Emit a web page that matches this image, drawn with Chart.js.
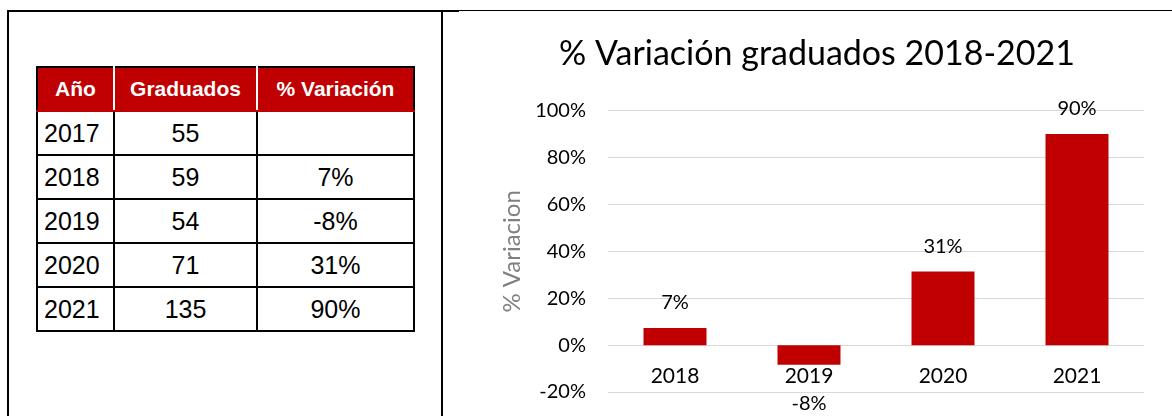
<!DOCTYPE html>
<html>
<head>
<meta charset="utf-8">
<script src="https://cdn.jsdelivr.net/npm/chart.js"></script>
<style>
  html, body { margin: 0; padding: 0; background: #fff; width: 1172px; height: 416px; overflow: hidden; }
  .linea { position: absolute; background: #000; }
  #tabla {
    position: absolute; left: 36px; top: 66px;
    border-collapse: collapse; table-layout: fixed;
    font-family: "Liberation Sans", Arial, sans-serif;
  }
  #tabla th {
    background: #C00000; color: #fff; font-weight: bold; font-size: 21px;
    height: 42px; padding: 0; text-align: center;
    border-top: 2px solid #000;
    border-left: 2px solid #fff; border-right: 2px solid #fff;
    border-bottom: 2px solid #C00000;
  }
  #tabla th:first-child { border-left-color: #000; }
  #tabla th:last-child { border-right-color: #000; }
  #tabla td {
    border: 2px solid #000; height: 42px; padding: 0;
    font-size: 25px; color: #000; text-align: center;
  }
  #tabla td:first-child { text-align: left; padding-left: 6px; }
  #grafico { position: absolute; left: 462px; top: 12px; }
</style>
</head>
<body>
<div class="linea" style="left:7px;top:10px;width:2px;height:406px"></div>
<div class="linea" style="left:7px;top:10px;width:452px;height:2px"></div>
<div class="linea" style="left:441px;top:10px;width:2px;height:406px"></div>
<div class="linea" style="left:459px;top:10px;width:713px;height:1px"></div>

<table id="tabla">
  <colgroup><col style="width:77px"><col style="width:143px"><col style="width:157px"></colgroup>
  <thead><tr><th>Año</th><th>Graduados</th><th>% Variación</th></tr></thead>
  <tbody id="cuerpo"></tbody>
</table>

<canvas id="grafico" width="710" height="414"></canvas>

<script>
// datos de la tabla
const anios = ['2017', '2018', '2019', '2020', '2021'];
const graduados = [55, 59, 54, 71, 135];
const variacionTabla = ['', '7%', '-8%', '31%', '90%'];

// datos del grafico
const categorias = ['2018', '2019', '2020', '2021'];
const variacion = [0.073, -0.084, 0.314, 0.901];

const cuerpo = document.getElementById('cuerpo');
anios.forEach((a, i) => {
  const tr = document.createElement('tr');
  [a, graduados[i], variacionTabla[i]].forEach(t => {
    const td = document.createElement('td');
    td.textContent = t;
    tr.appendChild(td);
  });
  cuerpo.appendChild(tr);
});

const pct = v => Math.round(v * 100) + '%';

// etiquetas de datos encima / debajo de cada barra
const etiquetas = {
  id: 'etiquetas',
  afterDatasetsDraw(chart) {
    const ctx = chart.ctx;
    const meta = chart.getDatasetMeta(0);
    ctx.save();
    ctx.font = '20px Lato';
    ctx.fillStyle = '#000';
    ctx.textAlign = 'center';
    ctx.textBaseline = 'middle';
    meta.data.forEach((bar, i) => {
      const v = variacion[i];
      const y = v >= 0 ? bar.y - 25 : bar.y + 39;
      ctx.fillText(pct(v), bar.x, y);
    });
    ctx.restore();
  }
};

Chart.defaults.font.family = 'Lato';

const ctx = document.getElementById('grafico').getContext('2d');
const grafico = new Chart(ctx, {
  type: 'bar',
  data: {
    labels: categorias,
    datasets: [{
      data: variacion,
      backgroundColor: '#C00000',
      borderWidth: 0,
      barPercentage: 0.47,
      categoryPercentage: 1
    }]
  },
  options: {
    responsive: false,
    animation: false,
    layout: { padding: { left: 28, right: 28, top: 0, bottom: 15 } },
    plugins: {
      legend: { display: false },
      tooltip: { enabled: false },
      title: {
        display: true,
        text: '% Variación graduados 2018-2021',
        color: '#000',
        font: { size: 34, weight: 'normal' },
        padding: { top: 22, bottom: 36 }
      }
    },
    scales: {
      x: {
        position: { y: 0 },
        grid: { display: false },
        border: { display: false },
        ticks: { color: '#000', font: { size: 21 }, padding: 11 },
        afterFit(s) { s.height = 0; }
      },
      y: {
        min: -0.2,
        max: 1,
        grid: { color: '#d9d9d9', drawTicks: false },
        border: { display: false },
        ticks: { stepSize: 0.2, color: '#000', font: { size: 20 }, padding: 22, callback: v => pct(v) },
        title: { display: true, text: '% Variacion', color: '#808080', font: { size: 24 }, padding: 8 },
        afterFit(s) { s.width = 118; }
      }
    }
  },
  plugins: [etiquetas]
});
</script>
</body>
</html>
